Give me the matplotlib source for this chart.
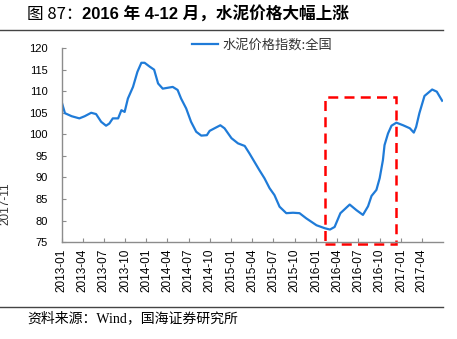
import numpy as np
import pandas as pd
import matplotlib
matplotlib.use("Agg")
import matplotlib.pyplot as plt
import matplotlib.dates as mdates
from matplotlib.patches import Rectangle
from matplotlib.lines import Line2D

plt.rcParams['font.family'] = ['Liberation Sans', 'Noto Sans CJK SC', 'DejaVu Sans']

# cement price index (national)
dates = [
  "2013-01-01", "2013-01-15", "2013-02-13", "2013-03-18", "2013-04-10", "2013-05-08",
  "2013-05-29", "2013-06-20", "2013-07-11", "2013-07-25", "2013-08-09", "2013-09-01",
  "2013-09-15", "2013-09-29", "2013-10-13", "2013-11-04", "2013-11-23", "2013-12-10",
  "2013-12-24", "2014-01-15", "2014-02-03", "2014-02-20", "2014-03-12", "2014-04-24",
  "2014-05-15", "2014-05-30", "2014-06-21", "2014-07-12", "2014-08-03", "2014-08-25",
  "2014-09-18", "2014-09-30", "2014-10-21", "2014-11-15", "2014-12-03", "2015-01-02",
  "2015-01-30", "2015-02-28", "2015-03-20", "2015-05-02", "2015-05-24", "2015-06-15",
  "2015-07-06", "2015-07-28", "2015-08-26", "2015-09-24", "2015-10-22", "2015-11-20",
  "2016-01-03", "2016-02-08", "2016-03-01", "2016-03-21", "2016-04-15", "2016-05-25",
  "2016-06-23", "2016-07-21", "2016-08-12", "2016-08-27", "2016-09-17", "2016-10-01",
  "2016-10-15", "2016-10-22", "2016-11-06", "2016-11-21", "2016-12-12", "2017-01-10",
  "2017-02-08", "2017-02-25", "2017-03-07", "2017-03-21", "2017-04-12", "2017-05-15",
  "2017-06-04", "2017-06-27",
]
cement_index = [
  107.5, 104.9, 104.2, 103.7, 104.2, 105.0,
  104.7, 102.9, 102.0, 102.5, 103.7, 103.7,
  105.6, 105.2, 108.3, 111.0, 114.5, 116.6,
  116.6, 115.7, 115.0, 111.8, 110.6, 111.0,
  110.3, 108.3, 106.0, 102.9, 100.6, 99.7,
  99.8, 100.8, 101.4, 102.1, 101.4, 99.1,
  97.9, 97.3, 95.6, 91.7, 89.8, 87.5,
  85.9, 83.2, 81.7, 81.8, 81.7, 80.5,
  78.9, 78.2, 77.9, 78.5, 81.7, 83.7,
  82.4, 81.3, 83.3, 85.7, 87.1, 89.8,
  94.0, 97.5, 100.2, 102.0, 102.7, 102.1,
  101.4, 100.4, 101.7, 104.9, 108.9, 110.4,
  109.9, 107.8,
]

x_ticks = pd.date_range("2013-01-01", "2017-04-01", freq="3MS")
y_ticks = [75, 80, 85, 90, 95, 100, 105, 110, 115, 120]

# highlighted window (Apr-Dec 2016)
box_start, box_end = "2016-02-08", "2016-12-10"
box_low, box_high = 74.5, 108.7

LINE_BLUE = '#1f7bd8'
GRAY = '#8c8c8c'

fig = plt.figure(figsize=(4.57, 3.39), dpi=100, facecolor='w')
ax = fig.add_axes([0.135, 0.286, 0.834, 0.572])

d = pd.to_datetime(dates)
ax.plot(d, cement_index, color=LINE_BLUE, linewidth=1.6, label='水泥价格指数:全国')

ax.set_ylim(75, 120)
ax.set_xlim(pd.Timestamp("2013-01-01"), pd.Timestamp("2017-06-30"))
ax.set_yticks(y_ticks)
ax.set_xticks(x_ticks)
ax.xaxis.set_major_formatter(mdates.DateFormatter('%Y-%m'))
ax.tick_params(axis='x', rotation=90, labelsize=8.5, direction='in', length=3, color=GRAY, pad=5)
ax.tick_params(axis='y', labelsize=8, direction='in', length=3, color=GRAY, pad=10)
for s in ['top', 'right']:
  ax.spines[s].set_visible(False)
for s in ['left', 'bottom']:
  ax.spines[s].set_color(GRAY)
  ax.spines[s].set_linewidth(1.0)

x0 = mdates.date2num(pd.Timestamp(box_start))
x1 = mdates.date2num(pd.Timestamp(box_end))
rect = Rectangle((x0, box_low), x1 - x0, box_high - box_low, fill=False,
                 edgecolor='#ff0000', linewidth=1.8, linestyle=(0, (4, 2.5)), clip_on=False)
ax.add_patch(rect)

leg = ax.legend(loc='center left', bbox_to_anchor=(0.342, 1.015), frameon=False,
                handlelength=2.0, handletextpad=0.3, borderpad=0, borderaxespad=0,
                prop={'family': ['Noto Sans CJK SC'], 'size': 9.5})
for t in leg.get_texts():
  t.set_color('#333333')

# title and rules
t1 = fig.text(0.059, 0.957, '图 87：', fontsize=12, family=['Noto Sans CJK SC'], va='center', ha='left')
fig.canvas.draw()
bb = t1.get_window_extent(renderer=fig.canvas.get_renderer())
x_next = bb.x1 / fig.bbox.width
fig.text(x_next, 0.957, '2016 年 4-12 月，水泥价格大幅上涨', fontsize=12, fontweight='bold',
         family=['Liberation Sans', 'Noto Sans CJK SC'], va='center', ha='left')
fig.add_artist(Line2D([0, 0.969], [0.912, 0.912], color='#444444', linewidth=1.0))
fig.add_artist(Line2D([0, 0.969], [0.094, 0.094], color='#444444', linewidth=1.0))
fig.text(0.059, 0.062, '资料来源：Wind，国海证券研究所', fontsize=10,
         family=['Liberation Serif', 'Noto Sans CJK SC'], va='center', ha='left')

# fragment of neighbouring chart cut off at the left edge
fig.text(0.012, 0.40, '2017-11', fontsize=8.5, rotation=90, va='center', ha='center', color='#333333')

fig.savefig('out.png', dpi=100, facecolor='w')
